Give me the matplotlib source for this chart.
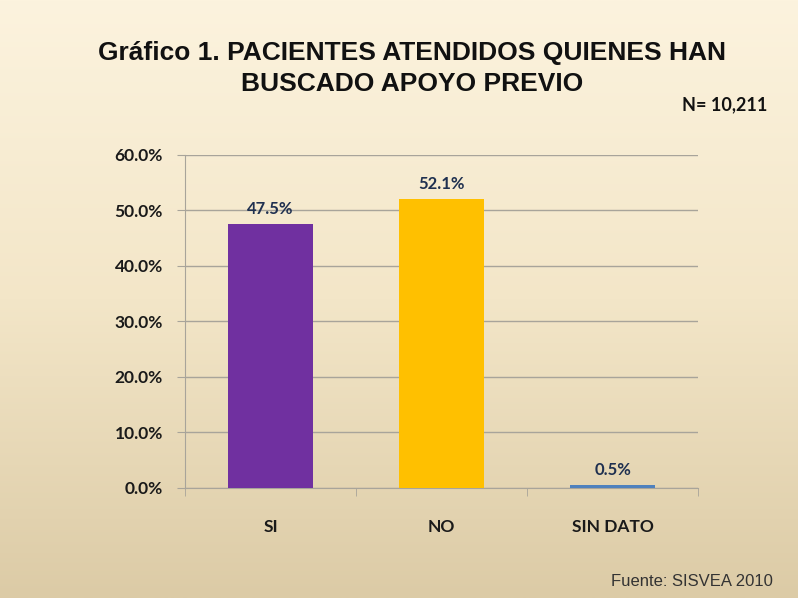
import numpy as np
import matplotlib
matplotlib.use('Agg')
import matplotlib.pyplot as plt
from matplotlib.ticker import FuncFormatter, MultipleLocator
from matplotlib.colors import LinearSegmentedColormap

# data
categories = ['SI', 'NO', 'SIN DATO']
values = [47.5, 52.1, 0.5]
bar_colors = ['#7030a0', '#ffc000', '#4f81bd']
labels = ['47.5%', '52.1%', '0.5%']

title = 'Gráfico 1. PACIENTES ATENDIDOS QUIENES HAN\nBUSCADO APOYO PREVIO'
n_text = 'N= 10,211'
source = 'Fuente: SISVEA 2010'

fig = plt.figure(figsize=(7.98, 5.98), dpi=100)

# background gradient
bg = fig.add_axes([0, 0, 1, 1], zorder=-10)
grad = np.linspace(0, 1, 256).reshape(-1, 1)
cmap = LinearSegmentedColormap.from_list('bg', ['#fcf3de', '#f3e6c8', '#dccba6'])
bg.imshow(grad, aspect='auto', cmap=cmap, extent=[0, 1, 0, 1], origin='upper')
bg.axis('off')

ax = fig.add_axes([0.232, 0.184, 0.643, 0.557])
ax.patch.set_alpha(0)

x = np.arange(len(categories))
ax.bar(x, values, width=0.5, color=bar_colors, zorder=3)

for xi, v, lab in zip(x, values, labels):
    ax.text(xi, v + 1.3, lab, ha='center', va='bottom', fontsize=12,
            fontweight='bold', color='#1f3050', family=['Lato', 'DejaVu Sans'])

ax.set_xlim(-0.5, 2.5)
ax.set_ylim(0, 60)
ax.yaxis.set_major_locator(MultipleLocator(10))
ax.yaxis.set_major_formatter(FuncFormatter(lambda v, p: f'{v:.1f}%'))
ax.grid(axis='y', color='#a8a49a', linewidth=1.0, zorder=0)

ax.set_xticks(x)
ax.set_xticklabels(categories)
ax.set_xticks([-0.5, 0.5, 1.5, 2.5], minor=True)
ax.tick_params(axis='x', which='major', length=0, pad=22)
ax.tick_params(axis='x', which='minor', length=6, color='#a8a49a', direction='out')
ax.tick_params(axis='y', length=6, color='#a8a49a', pad=10)
for lab in ax.get_xticklabels() + ax.get_yticklabels():
    lab.set_fontsize(12.5)
    lab.set_fontweight('bold')
    lab.set_family(['Lato', 'DejaVu Sans'])
    lab.set_color('#1a1a1a')

for s in ['top', 'right']:
    ax.spines[s].set_visible(False)
ax.spines['left'].set_color('#a8a49a')
ax.spines['bottom'].set_color('#a8a49a')

fig.text(0.516, 0.932, title, ha='center', va='top', fontsize=19,
         fontweight='bold', family=['Liberation Sans', 'DejaVu Sans'],
         color='#111111', linespacing=1.4)
fig.text(0.962, 0.824, n_text, ha='right', va='center', fontsize=13,
         fontweight='bold', family=['Lato', 'DejaVu Sans'], color='#111111')
fig.text(0.968, 0.027, source, ha='right', va='center', fontsize=12,
         family=['Liberation Sans', 'DejaVu Sans'], color='#333333')

fig.savefig('out.png', dpi=100)
